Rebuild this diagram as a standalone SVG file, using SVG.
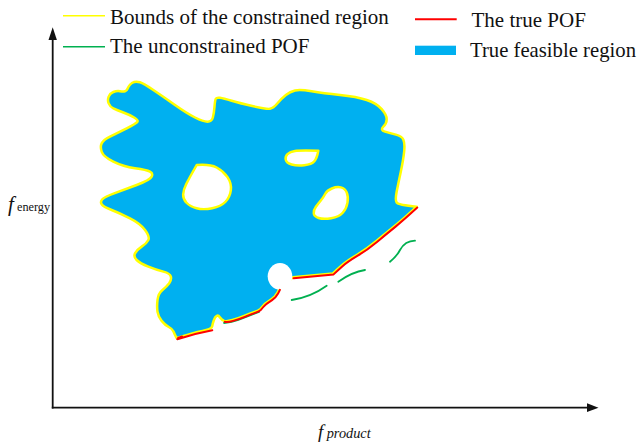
<svg xmlns="http://www.w3.org/2000/svg" width="640" height="446" viewBox="0 0 640 446">
<style>
.lbl{font-family:"Liberation Serif","Times New Roman",serif;font-size:21px;fill:#111}
.it{font-style:italic}
.bound{fill:none;stroke:#FFFF00;stroke-width:2.5;stroke-linejoin:round}
.pof{fill:none;stroke:#FF0000;stroke-width:2;stroke-linejoin:round;stroke-linecap:round}
.unc{fill:none;stroke:#00B050;stroke-width:1.8;stroke-linecap:round}
.axis{stroke:#111;stroke-width:1.8;fill:none}
</style>
<rect width="640" height="446" fill="#fff"/>
<g id="legend">
  <g id="legend-bounds"><line x1="63" y1="15.7" x2="105" y2="15.7" stroke="#FFFF00" stroke-width="1.6"/><text class="lbl" x="110" y="24">Bounds of the constrained region</text></g>
  <g id="legend-unconstrained"><line x1="63" y1="46.7" x2="105" y2="46.7" stroke="#00B050" stroke-width="1.6"/><text class="lbl" x="110" y="53.3">The unconstrained POF</text></g>
  <g id="legend-true"><line x1="415" y1="19.3" x2="456.7" y2="19.3" stroke="#FF0000" stroke-width="2"/><text class="lbl" x="471.5" y="27.3">The true POF</text></g>
  <g id="legend-feasible"><rect x="415" y="45.7" width="41" height="9.3" fill="#00B0F0"/><text class="lbl" x="470" y="56.7" textLength="166" lengthAdjust="spacingAndGlyphs">True feasible region</text></g>
</g>
<g id="axes">
  <line class="axis" x1="52.7" y1="408.5" x2="52.7" y2="39"/>
  <polygon points="52.7,27.3 48.5,40 56.9,40" fill="#111"/>
  <line class="axis" x1="51.8" y1="407.7" x2="588" y2="407.7"/>
  <polygon points="598.5,407.7 587,403.3 587,412.1" fill="#111"/>
  <text class="lbl it" x="8" y="211">f</text>
  <text class="lbl" x="17" y="210.7" style="font-size:13.5px" textLength="33" lengthAdjust="spacingAndGlyphs">energy</text>
  <text class="lbl it" x="318" y="437.5" style="font-size:19px">f</text>
  <text class="lbl it" x="326.7" y="438.3" style="font-size:14px" textLength="44" lengthAdjust="spacingAndGlyphs">product</text>
</g>
<g id="region">
  <path id="blob" fill="#00B0F0" stroke="#FFFF00" stroke-width="2.5" stroke-linejoin="round" d="M416.7,206.7 Q403.3,219 395,225.75 Q386.7,232.5 376.7,240.75 Q366.7,249 356.7,255 Q346.7,261 341.35,265.75 Q336,270.5 333,273.5 L293,277.3 L279.3,289 Q277.5,293.5 274.8,296.3 Q272,299 268.5,301.3 Q265,303.5 263.3,305.5 Q261.5,307.5 260.3,309 Q259,310.5 254.5,312 Q250,313.5 244.2,315.9 Q238.3,318.3 232.5,320 Q226.7,321.7 224.2,320.9 Q221.7,320 220,317.5 Q218.3,315 216.7,315.9 Q215,316.7 213.9,320 Q212.7,323.3 212.2,326.3 Q211.7,329.3 202.5,331 Q193.3,332.7 176.7,338.3 Q174.5,334 173.5,331.5 Q172.5,329 168.75,327 Q165,325 161.65,320.85 Q158.3,316.7 157.5,311.7 Q156.7,306.7 157.5,300 Q158.3,293.3 162.5,290 Q166.7,286.7 169.2,283.35 Q171.7,280 170.85,276.65 Q170,273.3 163.35,271.65 Q156.7,270 148.35,266.65 Q140,263.3 136.65,260 Q133.3,256.7 135,253.35 Q136.7,250 141.7,246.65 Q146.7,243.3 148.35,240 Q150,236.7 145,230 Q140,223.3 130,218.3 Q120,213.3 111.65,210 Q103.3,206.7 101.65,204.2 Q100,201.7 102.5,199.2 Q105,196.7 114.15,193.35 Q123.3,190 136.65,185 Q150,180 151.65,176.65 Q153.3,173.3 150,171.65 Q146.7,170 135,168.35 Q123.3,166.7 113.3,161.7 Q103.3,156.7 101.65,151.7 Q100,146.7 101.65,143.35 Q103.3,140 110,136.65 Q116.7,133.3 126.7,128.3 Q136.7,123.3 137.5,121.65 Q138.3,120 134.15,117.5 Q130,115 123.35,112.5 Q116.7,110 113.35,108.35 Q110,106.7 108.65,103.35 Q107.3,100 108.65,96.65 Q110,93.3 113.35,92 Q116.7,90.7 120,91.2 Q123.3,91.7 125,91.2 Q126.7,90.7 127.5,88.7 Q128.3,86.7 130,84.7 Q131.7,82.7 134.2,82 Q136.7,81.3 140,82.3 Q143.3,83.3 153.3,90 Q163.3,96.7 175,105 Q186.7,113.3 195,117.5 Q203.3,121.7 207.5,121.7 Q211.7,121.7 212.85,117.5 Q214,113.3 214.5,106.65 Q215,100 215.85,98.65 Q216.7,97.3 220,97.8 Q223.3,98.3 231.65,100.8 Q240,103.3 253.35,106.3 Q266.7,109.3 270,108.8 Q273.3,108.3 277.5,103.3 Q281.7,98.3 285.85,95 Q290,91.7 295,90.5 Q300,89.3 311.65,91.3 Q323.3,93.3 340,95 Q356.7,96.7 366.7,100 Q376.7,103.3 381.7,109.15 Q386.7,115 386.7,119.15 Q386.7,123.3 383.35,126.65 Q380,130 385,131.65 Q390,133.3 395.85,134.65 Q401.7,136 403.35,139.65 Q405,143.3 404.15,151.65 Q403.3,160 400.8,171.65 Q398.3,183.3 396.65,191.65 Q395,200 396.65,202.5 Q398.3,205 416.7,206.7 Z"/>
  <path id="hole1" fill="#fff" class="bound" style="fill:#fff" d="M196.7,165 Q210,164 216.65,167.5 Q223.3,171 227.5,177.15 Q231.7,183.3 230.85,190.15 Q230,197 225.5,201.75 Q221,206.5 212.15,208.25 Q203.3,210 196.65,208.25 Q190,206.5 186.5,202.75 Q183,199 183.15,194.5 Q183.3,190 186.15,184.25 Q189,178.5 196.7,165 Z"/>
  <path id="hole2" class="bound" style="fill:#fff" d="M318.3,150.7 Q317,158 314.35,161.25 Q311.7,164.5 304.2,165.25 Q296.7,166 291.6,164.5 Q286.5,163 285.75,159.75 Q285,156.5 287.5,154.1 Q290,151.7 295,150.95 Q300,150.2 318.3,150.7 Z"/>
  <path id="hole3" class="bound" style="fill:#fff" d="M320.8,200.5 Q323.3,197.5 325.15,194 Q327,190.5 331.85,188.5 Q336.7,186.5 340.85,187.4 Q345,188.3 346.75,192.5 Q348.5,196.7 347.5,202.6 Q346.5,208.5 342.75,212.75 Q339,217 331.15,218.25 Q323.3,219.5 318.65,218 Q314,216.5 313.75,213.25 Q313.5,210 315.9,206.75 Q318.3,203.5 320.8,200.5 Z"/>
  <ellipse id="notch" cx="280" cy="276.3" rx="12.3" ry="13.3" fill="#fff"/>
</g>
<g id="connectors">
  <g id="unconstrained-pof">
    <path class="unc" d="M259,311.8 Q250,315.3 238.3,320 Q232,322.3 224,323"/>
    <path class="unc" d="M291.7,300 Q311,297 326.7,285.7"/>
    <path class="unc" d="M338.3,281.7 Q352,272 365,270"/>
    <path class="unc" d="M390,261.7 Q397,256 400,250 Q405,241 415,240.7"/>
  </g>
  <g id="true-pof" transform="translate(0.6,0.9)">
    <path class="pof" d="M416.7,206.7 Q403.3,219 395,225.75 Q386.7,232.5 376.7,240.75 Q366.7,249 356.7,255 Q346.7,261 341.35,265.75 Q336,270.5 333,273.5 L293,277.3"/>
    <path class="pof" d="M279.3,289 Q277.5,293.5 274.8,296.3 Q272,299 268.5,301.3 Q265,303.5 263.3,305.5 Q261.5,307.5 260.3,309 Q259,310.5 254.5,312 Q250,313.5 244.2,315.9 Q238.3,318.3 232.5,320 Q226.7,321.7 224.2,320.9"/>
    <path class="pof" d="M211.7,329.3 Q193.3,332.7 176.7,338.3 L181.5,335.6 L177.5,337"/>
  </g>
</g>
</svg>
